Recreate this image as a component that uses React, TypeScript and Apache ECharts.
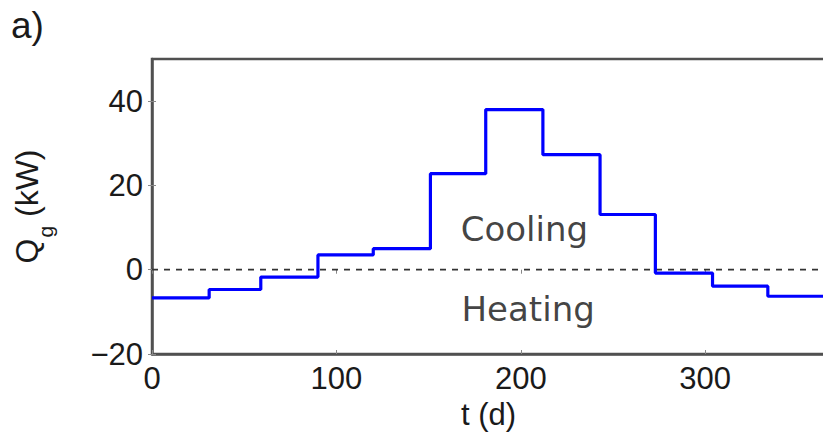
import React, { useEffect, useRef } from "react";
import * as echarts from "echarts";

const monthStarts = [0, 31, 59, 90, 120, 151, 181, 212, 243, 273, 304, 334, 365];
const monthlyQg = [-6.7, -4.7, -1.75, 3.5, 5.0, 22.8, 38.0, 27.3, 13.1, -0.8, -3.9, -6.3];
const xTicks = [0, 100, 200, 300];
const yTicks = [-20, 0, 20, 40];
const zeroLine = [0, 0];
const annotations = [
  { text: "Cooling", day: 202, value: 9.6 },
  { text: "Heating", day: 204, value: -9.3 },
];

export default function App() {
  const ref = useRef<HTMLDivElement>(null);
  useEffect(() => {
    if (!ref.current) return;
    const chart = echarts.init(ref.current, undefined, { renderer: "svg" });
    const stepData = monthStarts.map((d, i) => [d, monthlyQg[Math.min(i, monthlyQg.length - 1)]]);
    const font = "'Liberation Sans', Arial, sans-serif";
    const axisColor = "#505050";
    chart.setOption({
      animation: false,
      backgroundColor: "#fff",
      grid: {
        left: 152,
        right: -2,
        top: 59,
        bottom: 79,
        show: true,
        borderColor: axisColor,
        borderWidth: 2.5,
        containLabel: false,
        outerBoundsMode: "none",
      },
      xAxis: [
        {
          type: "value",
          min: 0,
          max: 365,
          interval: 100,
          axisLine: { show: true, onZero: false, lineStyle: { color: axisColor, width: 2.5 } },
          axisTick: { show: true, inside: true, length: 4, lineStyle: { color: "#888", width: 1 } },
          axisLabel: {
            color: "#1a1a1a",
            fontSize: 31,
            fontFamily: font,
            margin: 9,
            customValues: xTicks,
            formatter: (v: number) => String(v),
          },
          splitLine: { show: false },
          name: "t (d)",
          nameLocation: "middle",
          nameGap: 44,
          nameTextStyle: { color: "#1a1a1a", fontSize: 31, lineHeight: 31, fontFamily: font },
        },
        {
          type: "value",
          position: "top",
          min: 0,
          max: 365,
          interval: 100,
          axisLine: { show: false },
          axisTick: { show: true, inside: true, length: 4, lineStyle: { color: "#888", width: 1 } },
          axisLabel: { show: false },
          splitLine: { show: false },
        },
      ],
      yAxis: [
        {
          type: "value",
          min: -20,
          max: 50,
          interval: 10,
          axisLine: { show: true, onZero: false, lineStyle: { color: axisColor, width: 2.5 } },
          axisTick: { show: true, inside: true, length: 4, customValues: yTicks, lineStyle: { color: "#888", width: 1 } },
          axisLabel: {
            color: "#1a1a1a",
            fontSize: 31,
            fontFamily: font,
            margin: 9,
            customValues: yTicks,
            formatter: (v: number) => (v < 0 ? "\u2212" + Math.abs(v) : String(v)),
          },
          splitLine: { show: false },
          name: "{q|Q}{sub|g}{q| (kW)}",
          nameLocation: "middle",
          nameGap: 96,
          nameRotate: 90,
          nameTextStyle: {
            color: "#1a1a1a",
            fontFamily: font,
            rich: {
              q: { fontSize: 32, fontFamily: font, color: "#1a1a1a", verticalAlign: "top" },
              sub: { fontSize: 21, fontFamily: font, color: "#1a1a1a", verticalAlign: "bottom", padding: [24, 0, 0, 1] },
            },
          },
        },
        {
          type: "value",
          position: "right",
          min: -20,
          max: 50,
          interval: 10,
          axisLine: { show: false },
          axisTick: { show: true, inside: true, length: 4, customValues: yTicks, lineStyle: { color: "#888", width: 1 } },
          axisLabel: { show: false },
          splitLine: { show: false },
        },
      ],
      series: [
        {
          type: "line",
          data: [[monthStarts[0], zeroLine[0]], [monthStarts[monthStarts.length - 1], zeroLine[1]]],
          symbol: "none",
          lineStyle: { color: "#333", width: 1.8, type: [6, 6] },
          z: 1,
          silent: true,
        },
        {
          type: "line",
          step: "end",
          data: stepData,
          symbol: "none",
          lineStyle: { color: "#0000ff", width: 3.2 },
          z: 3,
          silent: true,
        },
        {
          type: "scatter",
          data: annotations.map((a) => [a.day, a.value, a.text]),
          symbolSize: 0,
          label: {
            show: true,
            position: "inside",
            formatter: (p: any) => p.data[2],
            fontSize: 34,
            fontFamily: "'DejaVu Sans', Verdana, sans-serif",
            color: "#111",
          },
          z: 4,
          silent: true,
        },
      ],
      graphic: [
        {
          type: "text",
          left: 11,
          top: 7,
          style: { text: "a)", fontSize: 37, fontFamily: font, fill: "#1a1a1a" },
        },
      ],
    });
    return () => chart.dispose();
  }, []);
  return <div ref={ref} style={{ position: "fixed", left: 0, top: 0, width: 823, height: 433 }} />;
}
